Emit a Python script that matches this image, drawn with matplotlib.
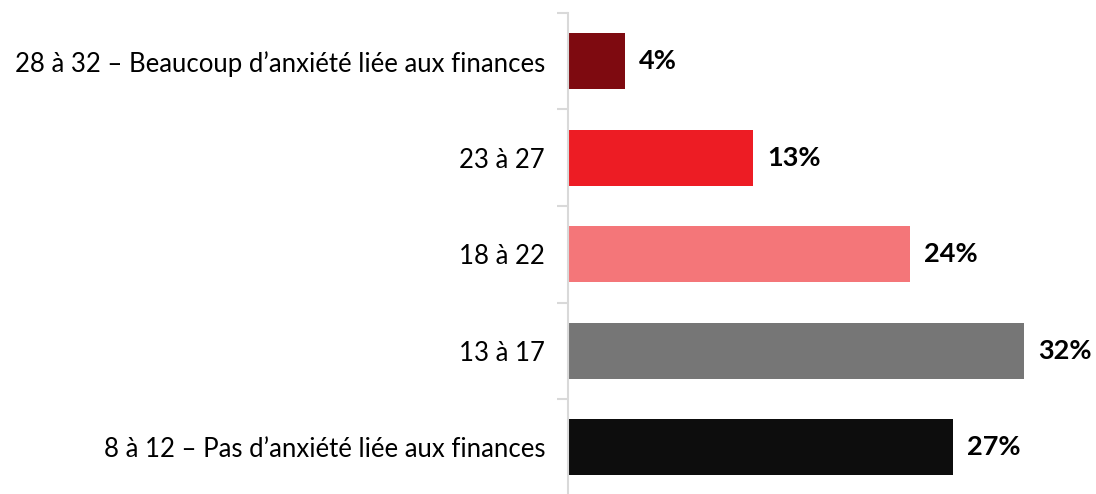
import numpy as np
import matplotlib.pyplot as plt

categories = [
    "28 à 32 – Beaucoup d’anxiété liée aux finances",
    "23 à 27",
    "18 à 22",
    "13 à 17",
    "8 à 12 – Pas d’anxiété liée aux finances",
]
values = [4, 13, 24, 32, 27]
colors = ["#7e0a10", "#ed1c24", "#f47679", "#767676", "#0d0d0d"]

plt.rcParams['font.family'] = ['Lato', 'DejaVu Sans']

fig = plt.figure(figsize=(10.96, 4.94), dpi=100)
ax = fig.add_axes([568 / 1096, -1.5 / 494, 528 / 1096, 482.5 / 494])

y = np.arange(len(categories))[::-1]
ax.barh(y, values, height=0.58, color=colors, zorder=2)

for yi, v in zip(y, values):
    ax.text(v + 1.0, yi, f"{v}%", va="center", ha="left",
            fontsize=19.5, fontweight="bold", color="black")

ax.set_xlim(0, 528 / 14.25)
ax.set_ylim(-0.5, len(categories) - 0.5)

ax.set_yticks(y)
ax.set_yticklabels(categories, fontsize=18.5)
ax.tick_params(axis="y", which="major", length=0, pad=16.5)
ax.set_yticks(np.arange(len(categories)) + 0.5, minor=True)
ax.tick_params(axis="y", which="minor", length=8, width=1.5, color="#d9d9d9")
ax.set_xticks([])

for side in ["top", "right", "bottom"]:
    ax.spines[side].set_visible(False)
ax.spines["left"].set_color("#d9d9d9")
ax.spines["left"].set_linewidth(1.5)

fig.savefig("out.png", dpi=100)
